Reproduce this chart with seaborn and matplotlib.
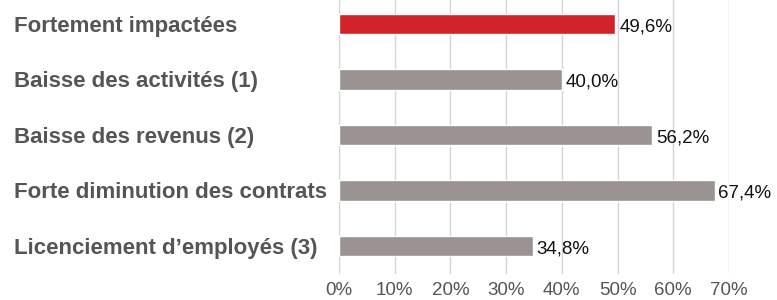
import matplotlib
matplotlib.use("Agg")
import matplotlib.pyplot as plt
import seaborn as sns
import pandas as pd

categories = [
    "Fortement impactées",
    "Baisse des activités (1)",
    "Baisse des revenus (2)",
    "Forte diminution des contrats",
    "Licenciement d\u2019employés (3)",
]
values = [49.6, 40.0, 56.2, 67.4, 34.8]
value_labels = ["49,6%", "40,0%", "56,2%", "67,4%", "34,8%"]
colors = ["#D2232A", "#9A9391", "#9A9391", "#9A9391", "#9A9391"]
ticks = [0, 10, 20, 30, 40, 50, 60, 70]
tick_labels = ["0%", "10%", "20%", "30%", "40%", "50%", "60%", "70%"]

sns.set_theme(style="white")
plt.rcParams["font.family"] = ["Liberation Sans", "DejaVu Sans"]

df = pd.DataFrame({"cat": categories, "val": values})

fig = plt.figure(figsize=(7.77, 3.00), dpi=100)
x0, x70 = 339, 729
ax = fig.add_axes([x0 / 777, 1 - 273.75 / 300, (x70 - x0) / 777, 277.5 / 300])

sns.barplot(data=df, y="cat", x="val", hue="cat", palette=colors, legend=False,
            width=0.37, ax=ax, orient="h", saturation=1)

ax.set_xlim(0, 70)
ax.set_ylim(4.5, -0.5)
ax.set_xticks(ticks)
ax.set_xticklabels(tick_labels, fontsize=13.5, color="#555555")
ax.set_xlabel("")
ax.set_ylabel("")
ax.set_axisbelow(True)
ax.xaxis.grid(True, color="#d4d4d4", linewidth=1)
ax.yaxis.grid(False)
for s in ax.spines.values():
    s.set_visible(False)
ax.tick_params(axis="x", length=0, pad=6)
ax.tick_params(axis="y", length=0, pad=234)
ax.set_yticks(range(len(categories)))
ax.set_yticklabels(categories, fontsize=16, fontweight="bold", color="#555555", ha="left")

for i, (v, lab) in enumerate(zip(values, value_labels)):
    ax.text(v + 0.7, i + 0.05, lab, va="center", ha="left", fontsize=13.5,
            color="#111111", clip_on=False)

fig.savefig("out.png", dpi=100)
